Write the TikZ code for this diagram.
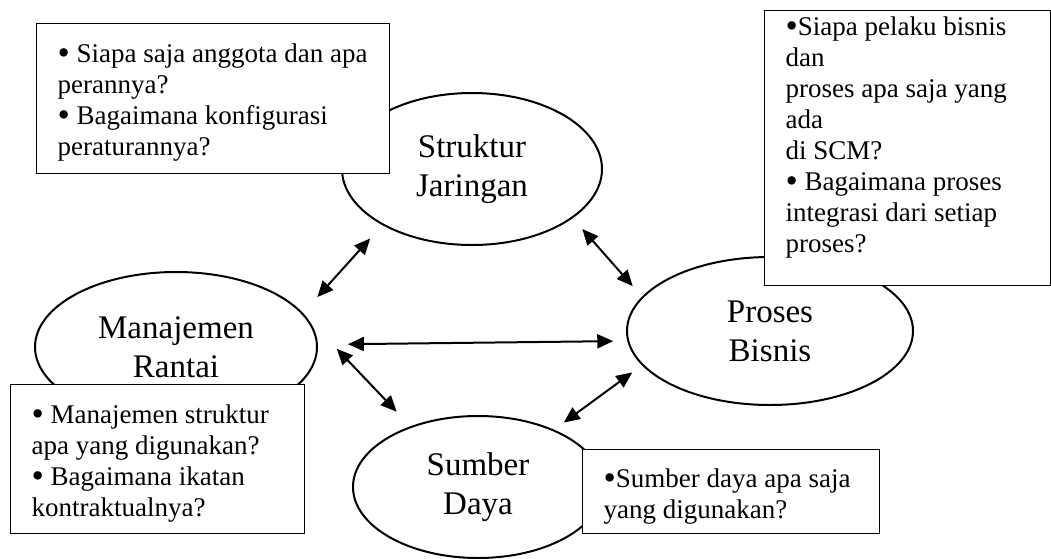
\documentclass[tikz,border=0pt]{standalone}
\usepackage{fontspec}
\setmainfont{Liberation Serif}
\usetikzlibrary{shapes.geometric,arrows.meta}

\newcommand{\qdot}{\raisebox{-1.1pt}{\scalebox{1.3}{•}}}

\tikzset{
  topic/.style={ellipse, draw, line width=1pt, fill=white, inner sep=0pt,
    align=center, font=\fontsize{16.5}{19.5}\selectfont},
  qbox/.style={rectangle, draw, line width=0.6pt, fill=white, anchor=north west,
    align=flush left, inner xsep=10.5pt, inner ysep=0pt, font=\fontsize{13.5}{15.5}\selectfont},
  link/.style={{Triangle[length=8pt,width=7pt]}-{Triangle[length=8pt,width=7pt]}, line width=1pt}
}

\begin{document}
\begin{tikzpicture}[x=0.5pt, y=-0.5pt]
        \useasboundingbox (0,0) rectangle (1051,558);
        % the four topics
        \node[topic, minimum width=130pt, minimum height=76pt] (sj) at (472,169) {Struktur\\Jaringan};
        \node[topic, minimum width=141pt, minimum height=75pt] (mr) at (176,347) {Manajemen\\Rantai};
        \node[topic, minimum width=143pt, minimum height=74pt] (pb) at (770,331) {Proses\\Bisnis};
        \node[topic, minimum width=125pt, minimum height=71pt] (sd) at (478,487) {Sumber\\Daya};
        % links between topics
        \draw[link, shorten <=9pt, shorten >=10.7pt] (sj.212.5) -- (mr.15.9);
        \draw[link, shorten <=7.2pt, shorten >=7pt]  (sj.334.4) -- (pb.165.4);
        \draw[link, shorten <=15pt, shorten >=7pt]   (mr.1)     -- (pb.184.9);
        \draw[link, shorten <=22pt, shorten >=10pt]  (mr.13)    -- (sd.138.7);
        \draw[link, shorten <=6pt, shorten >=6pt]    (pb.195)   -- (sd.37.5);
        % question boxes
        \node[qbox, text width=155.5pt, minimum width=176.5pt, text height=19.5pt, text depth=55.5pt] (qsj) at (36,23)
        {\qdot{} Siapa saja anggota dan apa\\perannya?\\\qdot{} Bagaimana konfigurasi\\peraturannya?};
        \node[qbox, text width=122pt, minimum width=143pt, text height=12.5pt, text depth=125pt] (qpb) at (764,10)
        {\qdot Siapa pelaku bisnis\\dan\\proses apa saja yang\\ada\\di SCM?\\\qdot{} Bagaimana proses\\integrasi dari setiap\\proses?};
        \node[qbox, text width=126pt, minimum width=147pt, text height=19.5pt, text depth=55pt] (qmr) at (10,384)
        {\qdot{} Manajemen struktur\\apa yang digunakan?\\\qdot{} Bagaimana ikatan\\kontraktualnya?};
        \node[qbox, text width=127.5pt, minimum width=148.5pt, text height=19pt, text depth=23pt] (qsd) at (582,449)
        {\qdot Sumber daya apa saja\\yang digunakan?};
\end{tikzpicture}
\end{document}
